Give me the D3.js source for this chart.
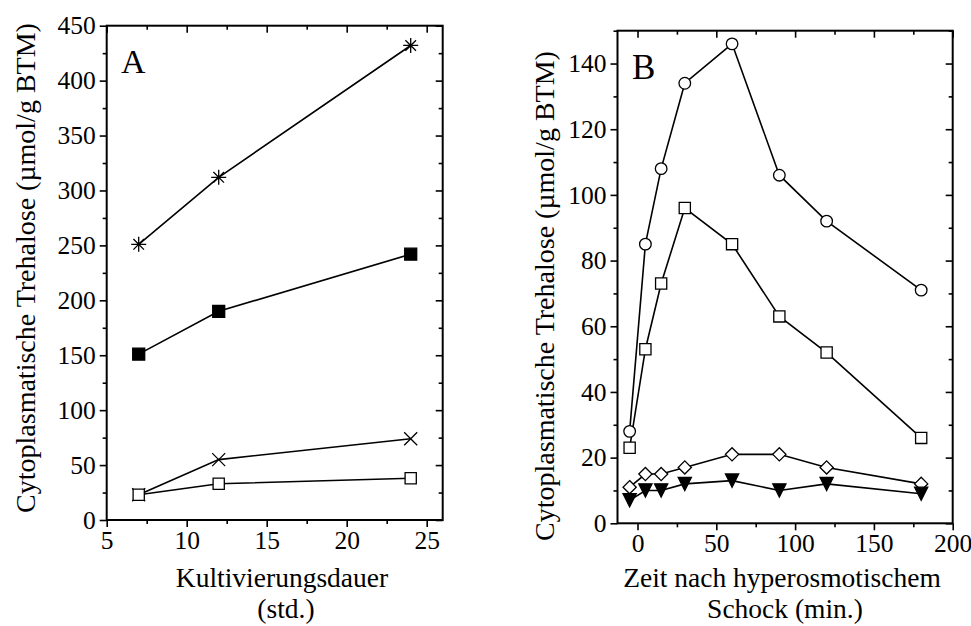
<!DOCTYPE html>
<html>
<head>
<meta charset="utf-8">
<script src="https://cdn.jsdelivr.net/npm/d3@7"></script>
<style>
  body { margin: 0; background: #fff; }
  svg { display: block; }
  svg text { font-family: "Liberation Serif", "Times New Roman", Times, "DejaVu Serif", serif; fill: #000; }
</style>
</head>
<body>
<div id="chart"></div>
<script>
// Panel A: trehalose vs cultivation time
const timeA = [7, 12, 24];
const starA = [251, 312, 432];
const filledSquareA = [151, 190, 242];
const crossA = [23, 55, 74];
const openSquareA = [23, 33, 38];

// Panel B: trehalose after hyperosmotic shock
const timeB = [-5, 5, 15, 30, 60, 90, 120, 180];
const circleB = [28, 85, 108, 134, 146, 106, 92, 71];
const squareB = [23, 53, 73, 96, 85, 63, 52, 26];
const diamondB = [11, 15, 15, 17, 21, 21, 17, 12];
const triangleB = [7, 10, 10, 12, 13, 10, 12, 9];

const xTicksA = [5, 10, 15, 20, 25];
const yTicksA = [0, 50, 100, 150, 200, 250, 300, 350, 400, 450];
const xTicksB = [0, 50, 100, 150, 200];
const yTicksB = [0, 20, 40, 60, 80, 100, 120, 140];

const yLabel = "Cytoplasmatische Trehalose (\u00b5mol/g BTM)";

const serif = "'Liberation Serif', 'Times New Roman', Times, 'DejaVu Serif', serif";
const width = 971, height = 626;

const svg = d3.select("#chart")
    .append("svg")
    .attr("width", width)
    .attr("height", height)
    .attr("viewBox", [0, 0, width, height]);

// marker shapes, centred on 0,0
function shape(type) {
    const p = d3.path();
    if (type === "star") {
        const r = 7.5, d = r * Math.SQRT1_2;
        p.moveTo(-r, 0); p.lineTo(r, 0);
        p.moveTo(0, -r); p.lineTo(0, r);
        p.moveTo(-d, -d); p.lineTo(d, d);
        p.moveTo(-d, d); p.lineTo(d, -d);
    } else if (type === "cross") {
        const r = 6.5;
        p.moveTo(-r, -r); p.lineTo(r, r);
        p.moveTo(-r, r); p.lineTo(r, -r);
    } else if (type === "square" || type === "fsquare") {
        const r = type === "fsquare" ? 6 : 5.6;
        p.rect(-r, -r, 2 * r, 2 * r);
    } else if (type === "circle") {
        p.arc(0, 0, 5.8, 0, 2 * Math.PI);
    } else if (type === "diamond") {
        const r = 6.6;
        p.moveTo(0, -r); p.lineTo(r, 0); p.lineTo(0, r); p.lineTo(-r, 0); p.closePath();
    } else if (type === "triangle") {
        const w = 6.6, h = 6.6;
        p.moveTo(-w, -h); p.lineTo(w, -h); p.lineTo(0, h); p.closePath();
    }
    return p.toString();
}

function panel(cfg) {
    const x = d3.scaleLinear().domain(cfg.xDomain).range([cfg.left, cfg.right]);
    const y = d3.scaleLinear().domain(cfg.yDomain).range([cfg.bottom, cfg.top]);

    const g = svg.append("g");

    const axes = [
        { axis: d3.axisBottom(x).tickValues(cfg.xTicks).tickSize(7), pos: `translate(0,${cfg.bottom})` },
        { axis: d3.axisBottom(x).tickValues(cfg.xMinor).tickSize(4).tickFormat(""), pos: `translate(0,${cfg.bottom})` },
        { axis: d3.axisTop(x).tickValues(cfg.xTicks).tickSize(-7).tickFormat(""), pos: `translate(0,${cfg.top})` },
        { axis: d3.axisTop(x).tickValues(cfg.xMinor).tickSize(-4).tickFormat(""), pos: `translate(0,${cfg.top})` },
        { axis: d3.axisLeft(y).tickValues(cfg.yTicks).tickSize(7), pos: `translate(${cfg.left},0)` },
        { axis: d3.axisLeft(y).tickValues(cfg.yMinor).tickSize(4).tickFormat(""), pos: `translate(${cfg.left},0)` },
        { axis: d3.axisRight(y).tickValues(cfg.yTicks).tickSize(-7).tickFormat(""), pos: `translate(${cfg.right},0)` },
        { axis: d3.axisRight(y).tickValues(cfg.yMinor).tickSize(-4).tickFormat(""), pos: `translate(${cfg.right},0)` }
    ];

    for (let a of axes) {
        const ax = g.append("g")
            .attr("transform", a.pos)
            .call(a.axis.tickPadding(4))
            .attr("font-family", serif)
            .attr("font-size", 25.5);
        ax.select(".domain").remove();
        ax.selectAll("line").attr("stroke", "#000").attr("stroke-width", 1.6);
        ax.selectAll("text").attr("fill", "#000");
    }

    // frame
    g.append("rect")
        .attr("x", cfg.left)
        .attr("y", cfg.top)
        .attr("width", cfg.right - cfg.left)
        .attr("height", cfg.bottom - cfg.top)
        .attr("fill", "none")
        .attr("stroke", "#000")
        .attr("stroke-width", 2);

    const line = d3.line().x(d => x(d[0])).y(d => y(d[1]));

    for (let s of cfg.series) {
        const pts = cfg.xs.map((v, i) => [v, s.values[i]]);
        g.append("path")
            .attr("d", line(pts))
            .attr("fill", "none")
            .attr("stroke", "#000")
            .attr("stroke-width", 1.6);
    }

    for (let s of cfg.series) {
        const pts = cfg.xs.map((v, i) => [v, s.values[i]]);
        g.selectAll(null)
            .data(pts)
            .join("path")
            .attr("transform", d => `translate(${x(d[0])},${y(d[1])})`)
            .attr("d", shape(s.type))
            .attr("fill", s.filled ? "#000" : (s.type === "star" || s.type === "cross" ? "none" : "#fff"))
            .attr("stroke", "#000")
            .attr("stroke-width", 1.3);
    }

    // panel letter
    g.append("text")
        .attr("x", cfg.letterX)
        .attr("y", cfg.letterY)
        .attr("font-family", serif)
        .attr("font-size", cfg.letterSize)
        .text(cfg.letter);

    // y axis label
    g.append("text")
        .attr("transform", `translate(${cfg.yLabelX},${cfg.yLabelY}) rotate(-90)`)
        .attr("text-anchor", "middle")
        .attr("font-family", serif)
        .attr("font-size", 28)
        .text(yLabel);

    // x axis label, two lines
    cfg.xLabel.forEach((t, i) => {
        g.append("text")
            .attr("x", cfg.xLabelX[i])
            .attr("y", 587 + i * 31)
            .attr("text-anchor", "middle")
            .attr("font-family", serif)
            .attr("font-size", 27.5)
            .text(t);
    });
}

panel({
    left: 106.7, right: 442.7, top: 25.7, bottom: 520,
    xDomain: [5, 26], yDomain: [0, 450],
    xTicks: xTicksA, xMinor: [7.5, 12.5, 17.5, 22.5],
    yTicks: yTicksA, yMinor: d3.range(25, 450, 50),
    xs: timeA,
    series: [
        { values: starA, type: "star" },
        { values: filledSquareA, type: "fsquare", filled: true },
        { values: crossA, type: "cross" },
        { values: openSquareA, type: "square" }
    ],
    letter: "A", letterX: 121, letterY: 73, letterSize: 34,
    yLabelX: 35, yLabelY: 268,
    xLabel: ["Kultivierungsdauer", "(std.)"], xLabelX: [282, 286]
});

panel({
    left: 617.5, right: 952.7, top: 30.7, bottom: 523.3,
    xDomain: [-12.7, 200], yDomain: [0, 150],
    xTicks: xTicksB, xMinor: [25, 75, 125, 175],
    yTicks: yTicksB, yMinor: d3.range(10, 151, 20),
    xs: timeB,
    series: [
        { values: circleB, type: "circle" },
        { values: squareB, type: "square" },
        { values: diamondB, type: "diamond" },
        { values: triangleB, type: "triangle", filled: true }
    ],
    letter: "B", letterX: 632, letterY: 79, letterSize: 35,
    yLabelX: 554, yLabelY: 296,
    xLabel: ["Zeit nach hyperosmotischem", "Schock (min.)"], xLabelX: [782, 785]
});
</script>
</body>
</html>
